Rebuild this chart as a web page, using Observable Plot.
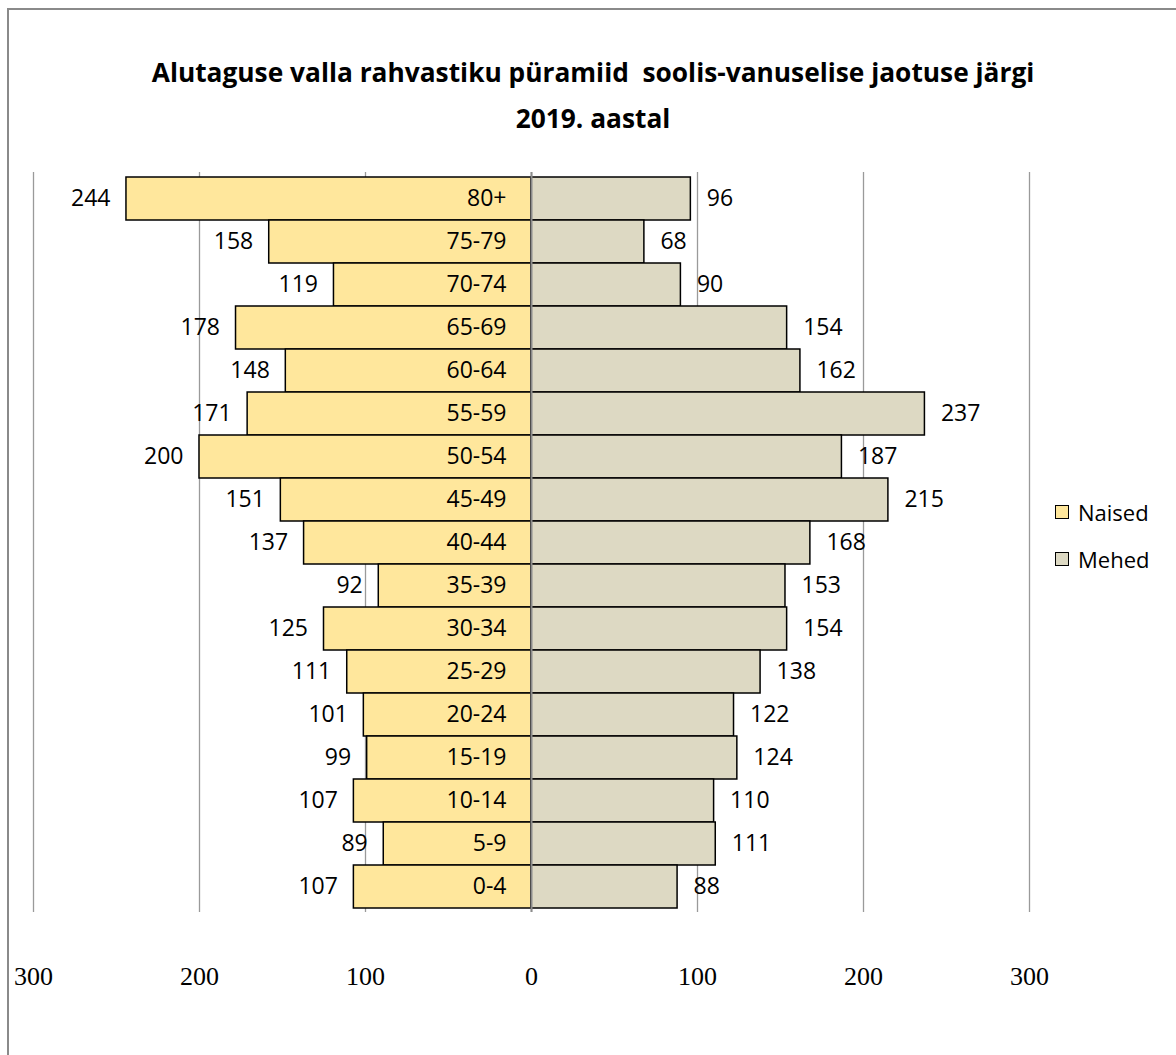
<!DOCTYPE html>
<html><head><meta charset="utf-8">
<script src="https://cdn.jsdelivr.net/npm/d3@7"></script>
<script src="https://cdn.jsdelivr.net/npm/@observablehq/plot@0.6"></script>
<style>
body{margin:0;background:#fff;width:1176px;height:1055px;overflow:hidden;position:relative;font-family:"Open Sans",sans-serif;color:#000;}
#frame{position:absolute;left:7px;top:8px;width:1300px;height:1200px;border-left:2px solid #8a8a8a;border-top:2px solid #8a8a8a;}
#title{position:absolute;left:10px;width:1166px;top:49px;text-align:center;font-weight:bold;font-size:26.3px;line-height:46px;white-space:pre;}
#chart{position:absolute;left:0;top:150px;}
#legend{position:absolute;left:1055px;top:488px;font-size:22px;}
.item{display:flex;align-items:center;height:47px;}
.sw{width:12px;height:12px;border:1.5px solid #000;margin-right:9px;}
</style></head>
<body>
<div id="frame"></div>
<div id="title">Alutaguse valla rahvastiku püramiid  soolis-vanuselise jaotuse järgi
2019. aastal</div>
<div id="chart"></div>
<div id="legend"></div>
<script>
const ages = ["80+","75-79","70-74","65-69","60-64","55-59","50-54","45-49","40-44","35-39","30-34","25-29","20-24","15-19","10-14","5-9","0-4"];
const naised = [244,158,119,178,148,171,200,151,137,92,125,111,101,99,107,89,107];
const mehed = [96,68,90,154,162,237,187,215,168,153,154,138,122,124,110,111,88];
const xTicks = [-300,-200,-100,0,100,200,300];
const seriesNames = ["Naised","Mehed"];
const seriesColors = ["#FFE79C","#DDD9C3"];

const rows = ages.map((a,i)=>({age:a, naised:naised[i], mehed:mehed[i]}));

const chart = Plot.plot({
  width:1176, height:862,
  marginLeft:33, marginRight:147, marginTop:22, marginBottom:100,
  x:{domain:[-300,300], label:null},
  y:{domain:ages, padding:0, axis:null, label:null},
  style:{fontFamily:"Open Sans", fontSize:"23px", color:"#000", background:"transparent", overflow:"visible"},
  marks:[
    Plot.ruleX(xTicks, {stroke:"#9a9a9a", strokeWidth:1.3}),
    Plot.barX(rows, {y:"age", x1:d=>-d.naised, x2:0, fill:seriesColors[0], stroke:"#000", strokeWidth:1.5}),
    Plot.barX(rows, {y:"age", x1:0, x2:"mehed", fill:seriesColors[1], stroke:"#000", strokeWidth:1.5}),
    Plot.ruleX([0], {stroke:"#8c8c8c", strokeWidth:2}),
    Plot.text(rows, {y:"age", x:0, text:"age", textAnchor:"end", dx:-25, fontSize:23, fill:"#000"}),
    Plot.text(rows, {y:"age", x:d=>-d.naised, text:"naised", textAnchor:"end", dx:-16, fontSize:23, fill:"#000"}),
    Plot.text(rows, {y:"age", x:"mehed", text:"mehed", textAnchor:"start", dx:16, fontSize:23, fill:"#000"}),
    Plot.axisX(xTicks, {anchor:"bottom", label:null, tickSize:0, tickPadding:54, tickFormat:d=>Math.abs(d), fontFamily:"Liberation Serif", fontSize:26, fill:"#000"})
  ]
});
document.getElementById("chart").appendChild(chart);

const lg = document.getElementById("legend");
seriesNames.forEach((n,i)=>{
  const it = document.createElement("div"); it.className="item";
  const sw = document.createElement("div"); sw.className="sw"; sw.style.background=seriesColors[i];
  const tx = document.createElement("span"); tx.textContent=n;
  it.appendChild(sw); it.appendChild(tx); lg.appendChild(it);
});
</script>
</body></html>
